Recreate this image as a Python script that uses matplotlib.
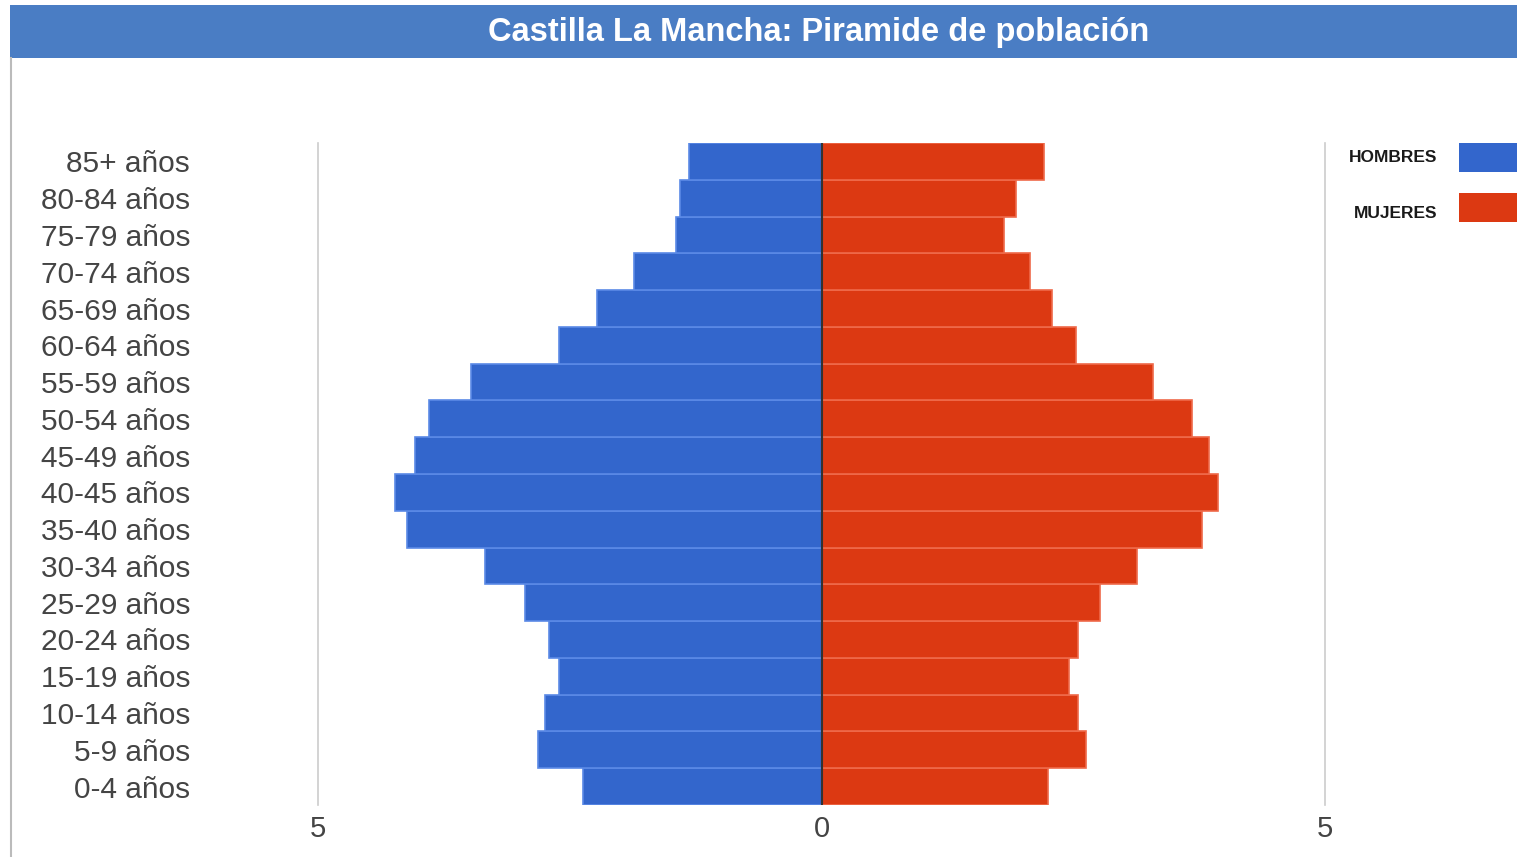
import numpy as np
import matplotlib.pyplot as plt
from matplotlib.patches import Rectangle

plt.rcParams['font.family'] = ['Liberation Sans', 'DejaVu Sans']

# age groups, bottom to top
grupos = ['0-4 años', '5-9 años', '10-14 años', '15-19 años', '20-24 años',
          '25-29 años', '30-34 años', '35-40 años', '40-45 años', '45-49 años',
          '50-54 años', '55-59 años', '60-64 años', '65-69 años', '70-74 años',
          '75-79 años', '80-84 años', '85+ años']
hombres = [2.37, 2.82, 2.75, 2.61, 2.71, 2.94, 3.34, 4.12, 4.24, 4.04,
           3.90, 3.48, 2.61, 2.23, 1.86, 1.44, 1.41, 1.32]
mujeres = [2.25, 2.63, 2.55, 2.46, 2.55, 2.77, 3.13, 3.78, 3.94, 3.85,
           3.68, 3.29, 2.53, 2.29, 2.07, 1.81, 1.93, 2.21]
xticks = [-5, 0, 5]

azul = '#3366cc'
rojo = '#dc3912'

W, H = 1517, 857
fig = plt.figure(figsize=(W / 100, H / 100), dpi=100)

# title bar
fig.patches.append(Rectangle((10 / W, 1 - 58 / H), 1, 53 / H, transform=fig.transFigure,
                             facecolor='#4a7dc4', edgecolor='none'))
fig.text((484 + 1153) / 2 / W, 1 - 33 / H, 'Castilla La Mancha: Piramide de población',
         color='white', fontsize=23.5, fontweight='bold', ha='center', va='center')
# left frame line
fig.add_artist(plt.Line2D([10.5 / W, 10.5 / W], [0, 1 - 58 / H], transform=fig.transFigure,
                          color='#bbbbbb', lw=1.5))

ax = fig.add_axes([318 / W, 1 - 805 / H, (1325 - 318) / W, (805 - 143) / H])
y = np.arange(len(grupos))
ax.barh(y, [-v for v in hombres], height=1.0, color=azul, edgecolor='#5b8ae6', linewidth=1.2)
ax.barh(y, mujeres, height=1.0, color=rojo, edgecolor='#ef6a4a', linewidth=1.2)
ax.axvline(0, color='#333333', lw=1.5, zorder=3)
for t in [-5, 5]:
    ax.axvline(t, color='#cccccc', lw=1.2, zorder=0, clip_on=False)

ax.set_xlim(-5, 5)
ax.set_ylim(-0.5, len(grupos) - 0.5)
ax.set_yticks(y)
ax.set_yticklabels(grupos, fontsize=21.5, color='#444444')
ax.set_xticks(xticks)
ax.set_xticklabels([str(abs(t)) for t in xticks], fontsize=21, color='#444444')
ax.tick_params(axis='y', length=0, pad=92)
ax.tick_params(axis='x', length=0, pad=7)
for s in ax.spines.values():
    s.set_visible(False)

# legend
for i, (lab, col) in enumerate([('HOMBRES', azul), ('MUJERES', rojo)]):
    top = 143 + i * 50
    fig.patches.append(Rectangle((1459 / W, 1 - (top + 29) / H), 60 / W, 29 / H,
                                 transform=fig.transFigure, facecolor=col, edgecolor='none'))
    fig.text(1437 / W, 1 - (157 + i * 56) / H, lab, fontsize=12.5, fontweight='heavy',
             color='#1a1a1a', ha='right', va='center')

fig.savefig('out.png', dpi=100)
